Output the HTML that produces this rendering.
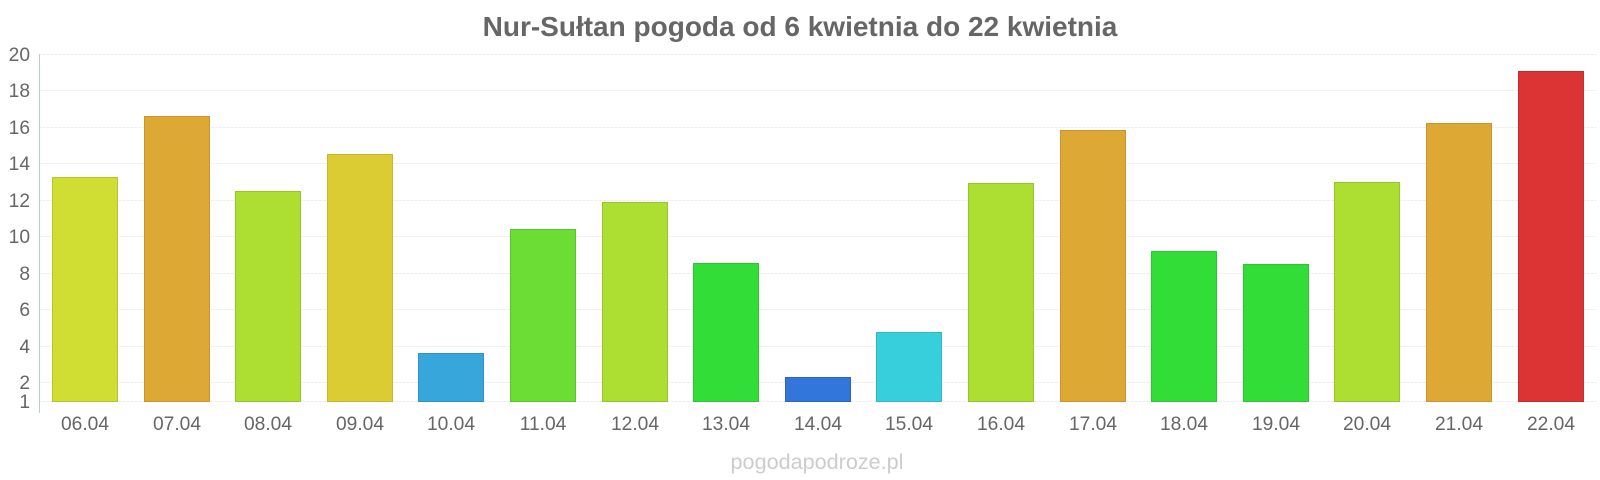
<!DOCTYPE html>
<html><head><meta charset="utf-8"><style>
html,body{margin:0;padding:0;background:#fff;}
svg{display:block;font-family:"Liberation Sans",sans-serif;}
</style></head><body>
<svg width="1600" height="480" viewBox="0 0 1600 480" xmlns="http://www.w3.org/2000/svg">
<text x="800" y="36" text-anchor="middle" font-size="28" font-weight="bold" fill="#666">Nur-Sułtan pogoda od 6 kwietnia do 22 kwietnia</text>
<g stroke="#eee" stroke-width="1" stroke-dasharray="3,1">
<line x1="39" x2="1597" y1="54.5" y2="54.5"/>
<line x1="39" x2="1597" y1="90.5" y2="90.5"/>
<line x1="39" x2="1597" y1="127.5" y2="127.5"/>
<line x1="39" x2="1597" y1="163.5" y2="163.5"/>
<line x1="39" x2="1597" y1="200.5" y2="200.5"/>
<line x1="39" x2="1597" y1="236.5" y2="236.5"/>
<line x1="39" x2="1597" y1="273.5" y2="273.5"/>
<line x1="39" x2="1597" y1="309.5" y2="309.5"/>
<line x1="39" x2="1597" y1="346.5" y2="346.5"/>
<line x1="39" x2="1597" y1="382.5" y2="382.5"/>
<line x1="39" x2="1597" y1="401.5" y2="401.5"/>
</g>
<line x1="39.5" x2="39.5" y1="54" y2="413" stroke="#bcc" stroke-width="1"/>
<g font-size="19.2" fill="#666" text-anchor="end">
<text x="30" y="61">20</text><text x="30" y="97">18</text><text x="30" y="134">16</text>
<text x="30" y="170">14</text><text x="30" y="207">12</text><text x="30" y="243">10</text>
<text x="30" y="280">8</text><text x="30" y="316">6</text><text x="30" y="353">4</text>
<text x="30" y="389">2</text><text x="30" y="408">1</text>
</g>
<g stroke-width="1">
<rect x="52.5" y="177.5" width="65" height="224" fill="#d0dd33" stroke="#b8c42c"/>
<rect x="144.5" y="116.5" width="65" height="285" fill="#dea834" stroke="#c9952c"/>
<rect x="235.5" y="191.5" width="65" height="210" fill="#addf33" stroke="#98c52c"/>
<rect x="327.5" y="154.5" width="65" height="247" fill="#dccc34" stroke="#c6b72c"/>
<rect x="418.5" y="353.5" width="65" height="48" fill="#36a6db" stroke="#2f93c4"/>
<rect x="510.5" y="229.5" width="65" height="172" fill="#6bdd35" stroke="#5ec42e"/>
<rect x="602.5" y="202.5" width="65" height="199" fill="#addf33" stroke="#98c52c"/>
<rect x="693.5" y="263.5" width="65" height="138" fill="#33dd38" stroke="#2cc431"/>
<rect x="785.5" y="377.5" width="65" height="24" fill="#3275db" stroke="#2b66c4"/>
<rect x="876.5" y="332.5" width="65" height="69" fill="#36cfdb" stroke="#2fb8c4"/>
<rect x="968.5" y="183.5" width="65" height="218" fill="#addf33" stroke="#98c52c"/>
<rect x="1060.5" y="130.5" width="65" height="271" fill="#dea834" stroke="#c9952c"/>
<rect x="1151.5" y="251.5" width="65" height="150" fill="#33dd38" stroke="#2cc431"/>
<rect x="1243.5" y="264.5" width="65" height="137" fill="#33dd38" stroke="#2cc431"/>
<rect x="1334.5" y="182.5" width="65" height="219" fill="#addf33" stroke="#98c52c"/>
<rect x="1426.5" y="123.5" width="65" height="278" fill="#dea834" stroke="#c9952c"/>
<rect x="1518.5" y="71.5" width="65" height="330" fill="#dc3434" stroke="#c42d2d"/>
</g>
<g font-size="19.2" fill="#666" text-anchor="middle">
<text x="85" y="430">06.04</text><text x="177" y="430">07.04</text><text x="268" y="430">08.04</text>
<text x="360" y="430">09.04</text><text x="451" y="430">10.04</text><text x="543" y="430">11.04</text>
<text x="635" y="430">12.04</text><text x="726" y="430">13.04</text><text x="818" y="430">14.04</text>
<text x="909" y="430">15.04</text><text x="1001" y="430">16.04</text><text x="1093" y="430">17.04</text>
<text x="1184" y="430">18.04</text><text x="1276" y="430">19.04</text><text x="1367" y="430">20.04</text>
<text x="1459" y="430">21.04</text><text x="1551" y="430">22.04</text>
</g>
<text x="817" y="469" text-anchor="middle" font-size="21.6" fill="#ccc">pogodapodroze.pl</text>
</svg>
</body></html>
